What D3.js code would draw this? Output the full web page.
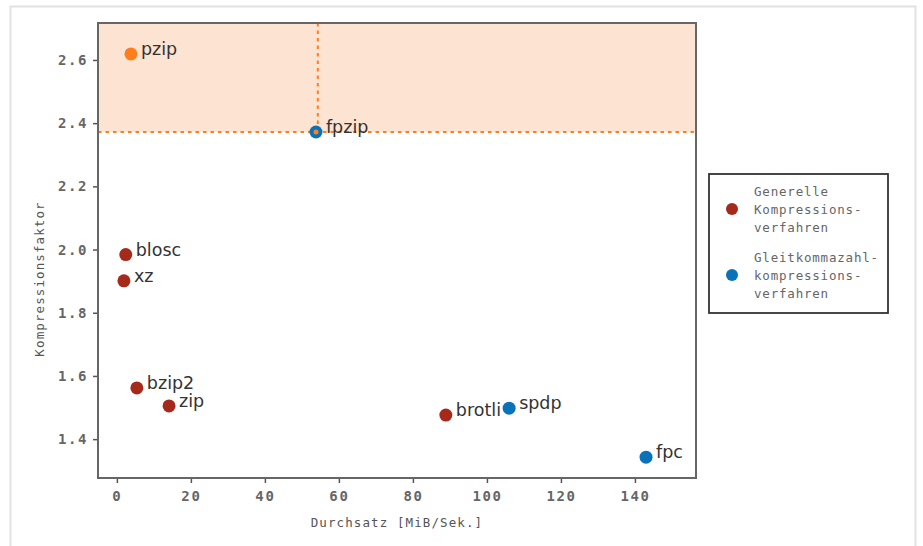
<!DOCTYPE html>
<html>
<head>
<meta charset="utf-8">
<script src="https://cdn.jsdelivr.net/npm/d3@7"></script>
<style>
  body { margin: 0; background: #fff; }
  svg { display: block; }
  .tick text { font-family: "DejaVu Sans Mono", monospace; font-size: 14px; fill: #666; letter-spacing: 1.6px; font-weight: bold; }
  .lbl { font-family: "DejaVu Sans", sans-serif; font-size: 17.5px; fill: #333; }
  .axlbl { font-family: "DejaVu Sans Mono", monospace; font-size: 12.5px; fill: #555; letter-spacing: 1.1px; }
  .leg { font-family: "DejaVu Sans Mono", monospace; font-size: 12.5px; fill: #666; letter-spacing: 0.8px; }
</style>
</head>
<body>
<script>
const names = ["pzip", "fpzip", "blosc", "xz", "bzip2", "zip", "brotli", "spdp", "fpc"];
const throughput = [3.8, 53.8, 2.4, 1.9, 5.4, 14.1, 88.9, 106, 143];
const ratio = [2.619, 2.372, 1.984, 1.901, 1.562, 1.505, 1.476, 1.498, 1.343];
const kind = ["best", "float", "general", "general", "general", "general", "general", "float", "float"];
const xTicks = [0, 20, 40, 60, 80, 100, 120, 140];
const yTicks = [1.4, 1.6, 1.8, 2.0, 2.2, 2.4, 2.6];
const legendItems = [
  { kind: "general", lines: ["Generelle", "Kompressions-", "verfahren"] },
  { kind: "float", lines: ["Gleitkommazahl-", "kompressions-", "verfahren"] }
];
const refX = 54.3, refY = 2.372;

const width = 923, height = 546;
const margin = { left: 98, top: 23, right: 227, bottom: 68 };
const colors = { general: "#a52a1c", float: "#0a72b8", best: "#ff7d1a" };

const svg = d3.select("body").append("svg")
  .attr("width", width)
  .attr("height", height);

// outer frame
svg.append("path")
  .attr("d", "M10.5,546 V6.5 H915.5 V546")
  .attr("fill", "none")
  .attr("stroke", "#e2e2e2")
  .attr("stroke-width", 2);

const x = d3.scaleLinear().domain([-5.1, 156.5]).range([margin.left, width - margin.right]);
const y = d3.scaleLinear().domain([1.277, 2.717]).range([height - margin.bottom, margin.top]);

// shaded "better" region
svg.append("rect")
  .attr("x", x(-5.1))
  .attr("y", y(2.717))
  .attr("width", x(156.5) - x(-5.1))
  .attr("height", y(refY) - y(2.717))
  .attr("fill", "#fde3d2");

svg.append("line")
  .attr("x1", x(-5.1)).attr("x2", x(156.5))
  .attr("y1", y(refY)).attr("y2", y(refY))
  .attr("stroke", "#ff7f1e").attr("stroke-width", 2).attr("stroke-dasharray", "3.5,4");
svg.append("line")
  .attr("x1", x(refX)).attr("x2", x(refX))
  .attr("y1", y(2.717)).attr("y2", y(refY))
  .attr("stroke", "#ff7f1e").attr("stroke-width", 2).attr("stroke-dasharray", "3.5,4");

// axes
const xAxis = svg.append("g")
  .attr("transform", `translate(0,${height - margin.bottom})`)
  .call(d3.axisBottom(x).tickValues(xTicks).tickSize(5).tickPadding(8).tickFormat(d3.format("d")));
const yAxis = svg.append("g")
  .attr("transform", `translate(${margin.left},0)`)
  .call(d3.axisLeft(y).tickValues(yTicks).tickSize(5).tickPadding(5).tickFormat(d3.format(".1f")));
[xAxis, yAxis].forEach(g => {
  g.select(".domain").remove();
  g.selectAll(".tick line").attr("stroke", "#555").attr("stroke-width", 1.5);
});

// frame of the plot
svg.append("rect")
  .attr("x", margin.left)
  .attr("y", margin.top)
  .attr("width", width - margin.left - margin.right)
  .attr("height", height - margin.top - margin.bottom)
  .attr("fill", "none")
  .attr("stroke", "#666")
  .attr("stroke-width", 2);

svg.append("text")
  .attr("class", "axlbl")
  .attr("x", (margin.left + width - margin.right) / 2)
  .attr("y", 527)
  .attr("text-anchor", "middle")
  .text("Durchsatz [MiB/Sek.]");

svg.append("text")
  .attr("class", "axlbl")
  .attr("transform", "translate(44,279) rotate(-90)")
  .attr("text-anchor", "middle")
  .text("Kompressionsfaktor");

// points
const pts = names.map((n, i) => ({ name: n, x: throughput[i], y: ratio[i], kind: kind[i] }));

svg.append("g")
  .selectAll("circle")
  .data(pts)
  .enter().append("circle")
    .attr("cx", d => x(d.x))
    .attr("cy", d => y(d.y))
    .attr("r", 6.5)
    .attr("fill", d => colors[d.kind]);

// reference marker on fpzip
svg.append("circle")
  .attr("cx", x(throughput[1]))
  .attr("cy", y(ratio[1]))
  .attr("r", 2.5)
  .attr("fill", "#ff7f1e");

svg.append("g")
  .selectAll("text")
  .data(pts)
  .enter().append("text")
    .attr("class", "lbl")
    .attr("x", d => x(d.x) + 10)
    .attr("y", d => y(d.y) + 1)
    .text(d => d.name);

// legend
const leg = svg.append("g").attr("transform", "translate(709,174)");
leg.append("rect")
  .attr("width", 179)
  .attr("height", 139)
  .attr("fill", "#fff")
  .attr("stroke", "#333")
  .attr("stroke-width", 1.8);

const entries = leg.selectAll(".entry")
  .data(legendItems)
  .enter().append("g")
    .attr("transform", (d, i) => `translate(0,${i * 66})`);
entries.append("circle")
  .attr("cx", 23)
  .attr("cy", 35)
  .attr("r", 6)
  .attr("fill", d => colors[d.kind]);
entries.append("text")
  .attr("class", "leg")
  .selectAll("tspan")
  .data(d => d.lines)
  .enter().append("tspan")
    .attr("x", 45)
    .attr("y", (d, i) => 22 + i * 18)
    .text(d => d);
</script>
</body>
</html>
